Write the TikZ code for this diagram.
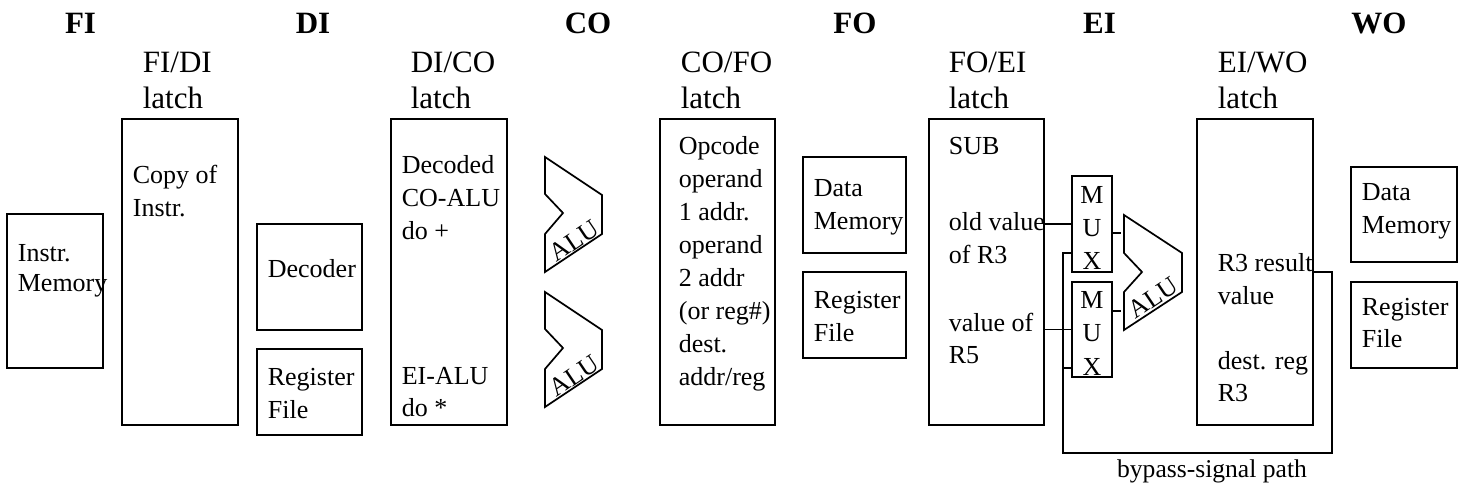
\documentclass[tikz,border=0pt]{standalone}
\usepackage{fontspec}
\setmainfont{Liberation Serif}
\usetikzlibrary{fit}
\newcommand\bodyfont{\fontsize{13}{16.5}\selectfont}
\newcommand\labelfont{\fontsize{15.5}{17.75}\selectfont}
\newcommand\headfont{\fontsize{15.5}{18}\selectfont\bfseries}
\newcommand\txtlines[1]{\parbox[t]{120pt}{\raggedright #1}}
\newcommand\muxletters{\parbox[t]{30pt}{\centering M\\U\\X}}
\begin{document}
\begin{tikzpicture}[x=0.5pt,y=-0.5pt,line width=0.85pt,
  unit/.style={draw,inner sep=0pt},
  txt/.style={inner sep=0pt,anchor=base west,font=\bodyfont},
  lbl/.style={inner sep=0pt,anchor=base west,font=\labelfont},
  head/.style={inner sep=0pt,anchor=base,font=\headfont},
  alutxt/.style={inner sep=0pt,font=\bodyfont,rotate=34}]
\useasboundingbox (0,0) rectangle (1465,491);

% stage names
\node[head] (hFI) at (80.5,34) {FI};
\node[head] (hDI) at (313,34) {DI};
\node[head] (hCO) at (588,34) {CO};
\node[head] (hFO) at (855,34) {FO};
\node[head] (hEI) at (1099.5,34) {EI};
\node[head] (hWO) at (1379,34) {WO};

% pipeline latches
\node[unit,fit={(122,119) (238,425)}] (fidi) {};
\node[unit,fit={(391,119) (507,425)}] (dico) {};
\node[unit,fit={(660,119) (775,425)}] (cofo) {};
\node[unit,fit={(929,119) (1044,425)}] (foei) {};
\node[unit,fit={(1197,119) (1313,425)}] (eiwo) {};

\node[lbl] (lfidi) at (142,73) {\txtlines{FI/DI\\latch}};
\node[lbl] (ldico) at (410,73) {\txtlines{DI/CO\\latch}};
\node[lbl] (lcofo) at (680,73) {\txtlines{CO/FO\\latch}};
\node[lbl] (lfoei) at (948,73) {\txtlines{FO/EI\\latch}};
\node[lbl] (leiwo) at (1217,73) {\txtlines{EI/WO\\latch}};

% latch contents
\node[txt] (cfidi) at (132,184) {\txtlines{Copy of\\Instr.}};
\node[txt] (cdico1) at (401,174) {\txtlines{Decoded\\CO-ALU\\do +}};
\node[txt] (cdico2) at (401,384) {\txtlines{EI-ALU\\do *}};
\node[txt] (ccofo) at (678,155) {\txtlines{Opcode\\operand\\1 addr.\\operand\\2 addr\\(or reg\#)\\dest.\\addr/reg}};
\node[txt] (cfoei1) at (948,155) {SUB};
\node[txt] (cfoei2) at (948,231) {\txtlines{old value\\of R3}};
\node[txt] (cfoei3) at (948,331) {\txtlines{value of\\R5}};
\node[txt] (ceiwo1) at (1217,272) {\txtlines{R3 result\\value}};
\node[txt] (ceiwo2) at (1217,369) {\txtlines{dest. reg\\R3}};

% memories, decoder and register files
\node[unit,fit={(7,214) (103,368)}] (imem) {};
\node[txt] (timem) at (17,262) {\parbox[t]{120pt}{\fontsize{13}{15}\selectfont Instr.\\Memory}};
\node[unit,fit={(257,224) (362,330)}] (dec) {};
\node[txt] (tdec) at (267,278) {Decoder};
\node[unit,fit={(257,349) (362,435)}] (rfD) {};
\node[txt] (trfD) at (267,386) {\txtlines{Register\\File}};
\node[unit,fit={(803,157) (906,253)}] (dmF) {};
\node[txt] (tdmF) at (813,197) {\txtlines{Data\\Memory}};
\node[unit,fit={(803,272) (906,358)}] (rfF) {};
\node[txt] (trfF) at (813,309) {\txtlines{Register\\File}};
\node[unit,fit={(1351,167) (1457,262)}] (dmW) {};
\node[txt] (tdmW) at (1361,201) {\txtlines{Data\\Memory}};
\node[unit,fit={(1351,282) (1457,368)}] (rfW) {};
\node[txt] (trfW) at (1361,315) {\txtlines{Register\\File}};

% ALUs
\draw (545,157) -- ++(57,38) -- ++(0,39) -- ++(-57,38) -- ++(0,-38) -- ++(18,-21) -- ++(-18,-19) -- cycle;
\node[alutxt] (alu1) at (574,241) {ALU};
\draw (545,292) -- ++(57,38) -- ++(0,39) -- ++(-57,38) -- ++(0,-38) -- ++(18,-21) -- ++(-18,-19) -- cycle;
\node[alutxt] (alu2) at (574,376) {ALU};
\draw (1124,215) -- ++(58,38) -- ++(0,39) -- ++(-58,38) -- ++(0,-38) -- ++(18,-20) -- ++(-18,-19) -- cycle;
\node[alutxt] (alu3) at (1153,298) {ALU};
\coordinate (inA) at (1121,233);
\coordinate (inB) at (1121,311);

% multiplexers
\node[unit,fit={(1072,176) (1112,272)}] (muxA) {};
\node[txt,anchor=base] (tmuxA) at (1092,204) {\muxletters};
\node[unit,fit={(1072,282) (1112,377)}] (muxB) {};
\node[txt,anchor=base] (tmuxB) at (1092,309) {\muxletters};
\coordinate (xA) at (1072,253);
\coordinate (xB) at (1072,368);
\coordinate (bus) at (1063,453);
\coordinate (turn) at (1332,453);

% operand wiring
\draw (muxA.west -| foei.east) -- (muxA.west);
\draw (muxB.west -| foei.east) -- (muxB.west);
\draw (inA -| muxA.east) -- (inA);
\draw (inB -| muxB.east) -- (inB);

% bypass-signal path
\draw (eiwo.east) -| (turn) -- (bus) |- (xA);
\draw (xB -| bus) -- (xB);
\node[inner sep=0pt,anchor=base,font=\fontsize{12.8}{15}\selectfont] (tbp) at (1212,477) {bypass-signal path};
\end{tikzpicture}
\end{document}
